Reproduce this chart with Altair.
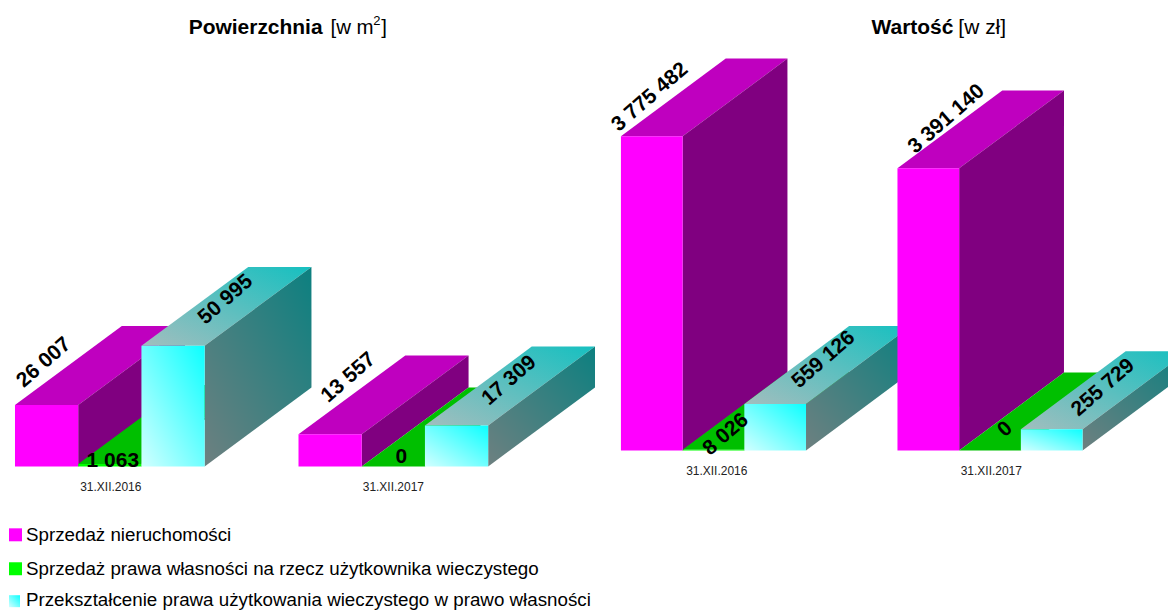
import altair as alt
import pandas as pd

dates = ["31.XII.2016", "31.XII.2017"]
series = [
    "Sprzedaż nieruchomości",
    "Sprzedaż prawa własności na rzecz użytkownika wieczystego",
    "Przekształcenie prawa użytkowania wieczystego w prawo własności",
]
area_2016 = [26007, 1063, 50995]
area_2017 = [13557, 0, 17309]
value_2016 = [3775482, 8026, 559126]
value_2017 = [3391140, 0, 255729]
area_labels = [["26 007", "1 063", "50 995"], ["13 557", "0", "17 309"]]
value_labels = [["3 775 482", "8 026", "559 126"], ["3 391 140", "0", "255 729"]]


def grad(a, b):
    return alt.Gradient(
        gradient="linear",
        x1=0, y1=1, x2=1, y2=0,
        stops=[alt.GradientStop(color=a, offset=0), alt.GradientStop(color=b, offset=1)],
    )


FACES = [
    ("#FF00FF", "#BF00BF", "#800080"),
    ("#00FF00", "#00BF00", "#008000"),
    (grad("#D2FFFF", "#0CFFFF"), grad("#A2BEBE", "#16C0C0"), grad("#6E8080", "#0C8080")),
]
FONT = "Liberation Sans"
PANEL_H = 602
TOP = 7.3


def panel(origin, width, base, unit, bar_w, group_step, first, dx, dy, vals, labels,
          label_xy, date_xy, titles, legend=False):
    xs = alt.Scale(domain=[0, width], range=[0, width], nice=False, zero=False)
    ys = alt.Scale(domain=[(base - TOP - PANEL_H) * unit, (base - TOP) * unit], range=[PANEL_H, 0],
                   nice=False, zero=False)
    X = lambda f="x": alt.X(f"{f}:Q", scale=xs, axis=None)
    Y = lambda f="y": alt.Y(f"{f}:Q", scale=ys, axis=None, stack=None)
    yv = lambda py: (base - py) * unit
    d = dy * unit
    layers = []
    for g, row in enumerate(vals):
        for s, v in enumerate(row):
            x0 = first - origin + g * group_step + s * bar_w
            x1 = x0 + bar_w
            front, top, side = FACES[s]
            topdf = pd.DataFrame({"y": [v, v + d], "x": [x0, x0 + dx], "x2": [x1, x1 + dx]})
            layers.append(alt.Chart(topdf).mark_area(orient="horizontal", color=top, clip=True)
                          .encode(y=Y(), x=X(), x2="x2:Q"))
            sidedf = pd.DataFrame({"x": [x1, x1 + dx], "y": [v, v + d], "y2": [0, d]})
            layers.append(alt.Chart(sidedf).mark_area(color=side, clip=True)
                          .encode(x=X(), y=Y(), y2="y2:Q"))
            frontdf = pd.DataFrame({"x": [x0], "x2": [x1], "y": [v], "y2": [0]})
            layers.append(alt.Chart(frontdf).mark_rect(color=front, clip=True)
                          .encode(x=X(), x2="x2:Q", y=Y(), y2="y2:Q"))
    # value labels
    rows = []
    for g in range(2):
        for s in range(3):
            px, py, ang = label_xy[g][s]
            rows.append({"x": px - origin, "y": yv(py), "t": labels[g][s], "a": ang})
    layers.append(alt.Chart(pd.DataFrame(rows))
                  .mark_text(font=FONT, fontWeight="bold", fontSize=21, color="#000000",
                             align="center", baseline="middle")
                  .encode(x=X(), y=Y(), text="t:N", angle=alt.Angle("a:Q", scale=None)))
    # date labels
    rows = [{"x": p[0] - origin, "y": yv(p[1]), "t": t} for p, t in zip(date_xy, dates)]
    layers.append(alt.Chart(pd.DataFrame(rows))
                  .mark_text(font=FONT, fontSize=12, color="#222222", align="center", baseline="middle")
                  .encode(x=X(), y=Y(), text="t:N"))
    # title pieces
    for t, px, py, size, weight in titles:
        layers.append(alt.Chart(pd.DataFrame({"x": [px - origin], "y": [yv(py)], "t": [t]}))
                      .mark_text(font=FONT, fontSize=size, fontWeight=weight, color="#000000",
                                 align="left", baseline="middle")
                      .encode(x=X(), y=Y(), text="t:N"))
    if legend:
        sq = [("#FF00FF", 9, 22, 528, 541), ("#00FF00", 9, 22, 562, 575),
              (grad("#D2FFFF", "#0CFFFF"), 9, 20, 595, 607)]
        for (c, a, b, t, e), name, ty in zip(sq, series, [534.5, 568.5, 599.5]):
            df = pd.DataFrame({"x": [a - origin], "x2": [b - origin], "y": [yv(t)], "y2": [yv(e)]})
            layers.append(alt.Chart(df).mark_rect(color=c).encode(x=X(), x2="x2:Q", y=Y(), y2="y2:Q"))
            tdf = pd.DataFrame({"x": [26 - origin], "y": [yv(ty)], "t": [name]})
            layers.append(alt.Chart(tdf)
                          .mark_text(font=FONT, fontSize=18.8, color="#000000", align="left", baseline="middle")
                          .encode(x=X(), y=Y(), text="t:N"))
    return alt.layer(*layers).properties(width=width, height=PANEL_H)


R = -41
left = panel(
    8, 600, 466, 422, 63.33, 284, 15, 107, 79,
    [area_2016, area_2017], area_labels,
    [[(44, 362, R), (113, 461, 0), (226, 299, R)], [(349, 377, R), (402, 457, 0), (510, 380, R)]],
    [(111, 487), (394, 487)],
    [("Powierzchnia", 189, 27, 21, "bold"), ("[w m", 331, 27, 20.5, "normal"),
     ("2", 374, 20, 13, "normal"), ("]", 382, 27, 20.5, "normal")],
    legend=True,
)
right = panel(
    608, 560, 450, 12000, 61.8, 277, 620, 105, 78,
    [value_2016, value_2017], value_labels,
    [[(649, 96, R), (725, 434, R), (823, 359, R)], [(946, 118, R), (1005, 429, R), (1103, 387, R)]],
    [(716, 471), (991, 471)],
    [("Wartość", 871, 27, 21, "bold"), ("[w zł]", 958, 27, 21, "normal")],
)

chart = (
    alt.hconcat(left, right, spacing=0)
    .properties(padding=0, background="#FFFFFF")
    .configure_view(stroke=None)
)
chart.save("out.html", embed_options={"renderer": "svg", "actions": False})
